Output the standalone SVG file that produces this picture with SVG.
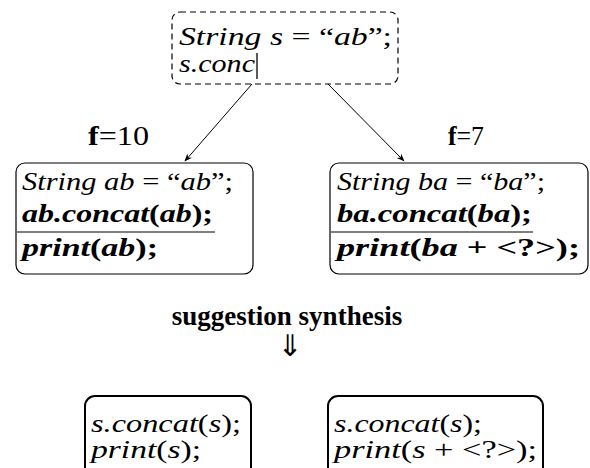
<svg xmlns="http://www.w3.org/2000/svg" width="590" height="468" viewBox="0 0 590 468">
<defs>
<style>
text{font-family:"Liberation Serif","DejaVu Serif",serif;font-size:25px;fill:#000}
.lbl{font-size:27px}
.arr{font-family:"DejaVu Sans",sans-serif;font-size:30px}
.i{font-style:italic}
.b{font-weight:bold}
.u{font-style:normal}
.box{fill:#fff;stroke:#000;stroke-width:1.2}
.thick{fill:#fff;stroke:#000;stroke-width:2}
.edge{stroke:#000;stroke-width:1;fill:none}
</style>
<marker id="ah" viewBox="0 0 10 10" refX="9" refY="5" markerWidth="8" markerHeight="8" orient="auto">
<path d="M0,1 L10,5 L0,9 L3,5 Z" fill="#000"/>
</marker>
</defs>
<g id="connectors">
<line class="edge" x1="252" y1="84" x2="185" y2="161" marker-end="url(#ah)"/>
<line class="edge" x1="328" y1="84" x2="404" y2="161" marker-end="url(#ah)"/>
</g>
<g id="node-query">
<rect x="172" y="12" width="226" height="72" rx="8" class="box" stroke-dasharray="6,4"/>
<text class="i" x="179" y="45" textLength="213" lengthAdjust="spacingAndGlyphs">String s <tspan class="u">=</tspan> <tspan class="u">“</tspan>ab<tspan class="u">”;</tspan></text>
<text class="i" x="179" y="72" textLength="76" lengthAdjust="spacingAndGlyphs">s.conc</text>
<line x1="257" y1="53" x2="257" y2="79" stroke="#000" stroke-width="1.3"/>
</g>
<g id="label-f10">
<text class="lbl" x="88" y="145" textLength="61" lengthAdjust="spacingAndGlyphs"><tspan class="b">f</tspan>=10</text>
</g>
<g id="label-f7">
<text class="lbl" x="448" y="145" textLength="36" lengthAdjust="spacingAndGlyphs"><tspan class="b">f</tspan>=7</text>
</g>
<g id="node-ab">
<rect x="16" y="163" width="237" height="111" rx="9" class="box"/>
<text class="i" x="22" y="190" textLength="211" lengthAdjust="spacingAndGlyphs">String ab <tspan class="u">=</tspan> <tspan class="u">“</tspan>ab<tspan class="u">”;</tspan></text>
<text class="i b" x="22" y="222" textLength="191" lengthAdjust="spacingAndGlyphs">ab.concat<tspan class="u">(</tspan>ab<tspan class="u">);</tspan></text>
<line x1="17" y1="232" x2="215" y2="232" stroke="#000" stroke-width="1"/>
<text class="i b" x="22" y="256" textLength="136" lengthAdjust="spacingAndGlyphs">print<tspan class="u">(</tspan>ab<tspan class="u">);</tspan></text>
</g>
<g id="node-ba">
<rect x="330" y="163" width="258" height="111" rx="9" class="box"/>
<text class="i" x="337" y="190" textLength="208" lengthAdjust="spacingAndGlyphs">String ba <tspan class="u">=</tspan> <tspan class="u">“</tspan>ba<tspan class="u">”;</tspan></text>
<text class="i b" x="337" y="222" textLength="195" lengthAdjust="spacingAndGlyphs">ba.concat<tspan class="u">(</tspan>ba<tspan class="u">);</tspan></text>
<line x1="331" y1="232" x2="533" y2="232" stroke="#000" stroke-width="1"/>
<text class="i b" x="337" y="256" textLength="243" lengthAdjust="spacingAndGlyphs">print<tspan class="u">(</tspan>ba <tspan class="u">+ &lt;?&gt;);</tspan></text>
</g>
<g id="label-synthesis">
<text class="b lbl" x="287" y="325" text-anchor="middle">suggestion synthesis</text>
<text class="arr" x="290" y="356" text-anchor="middle">⇓</text>
</g>
<g id="node-s1">
<rect x="85" y="396" width="166" height="90" rx="10" class="thick"/>
<text class="i" x="91" y="432" textLength="150" lengthAdjust="spacingAndGlyphs">s.concat<tspan class="u">(</tspan>s<tspan class="u">);</tspan></text>
<text class="i" x="91" y="458" textLength="110" lengthAdjust="spacingAndGlyphs">print<tspan class="u">(</tspan>s<tspan class="u">);</tspan></text>
</g>
<g id="node-s2">
<rect x="328" y="396" width="215" height="90" rx="10" class="thick"/>
<text class="i" x="334" y="432" textLength="148" lengthAdjust="spacingAndGlyphs">s.concat<tspan class="u">(</tspan>s<tspan class="u">);</tspan></text>
<text class="i" x="334" y="458" textLength="203" lengthAdjust="spacingAndGlyphs">print<tspan class="u">(</tspan>s <tspan class="u">+ &lt;?&gt;);</tspan></text>
</g>
</svg>
